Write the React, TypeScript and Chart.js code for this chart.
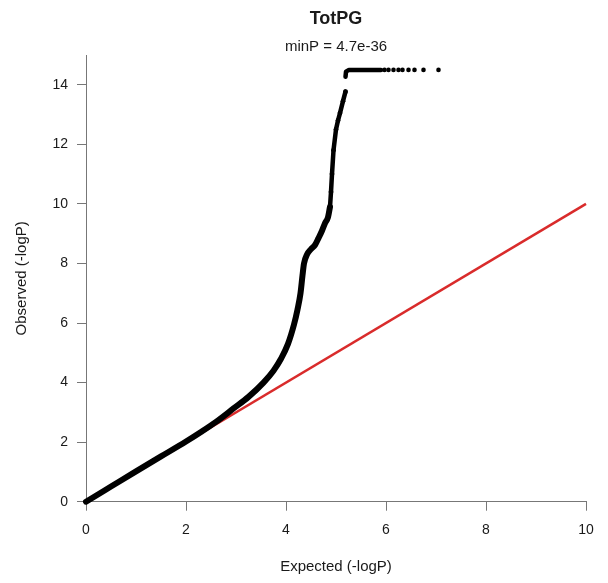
import React, { useEffect, useRef } from "react";
import { Chart, registerables } from "chart.js";

Chart.register(...registerables);

// Main (dense) part of the QQ curve: expected vs observed -log10(P)
const curveExpected = [0, 0.5, 1, 1.5, 2, 2.3, 2.6, 2.95, 3.25, 3.55, 3.75, 3.9, 4.04, 4.16, 4.23, 4.29, 4.33, 4.36, 4.42, 4.5, 4.58, 4.65, 4.72, 4.78, 4.84, 4.88];
const curveObserved = [0, 0.51, 1.02, 1.52, 2.02, 2.34, 2.68, 3.13, 3.52, 4.0, 4.4, 4.8, 5.3, 5.95, 6.45, 7.0, 7.6, 8.0, 8.3, 8.48, 8.62, 8.85, 9.1, 9.35, 9.55, 9.9];
// Sparser upper part
const upperExpected = [4.88, 4.9, 4.92, 4.95, 5.0, 5.04, 5.08, 5.14, 5.19];
const upperObserved = [9.9, 10.4, 11.0, 11.8, 12.5, 12.8, 13.05, 13.45, 13.77];
// Capped plateau
const plateauExpected = [5.19, 5.2, 5.26, 5.5, 5.7, 5.9];
const plateauObserved = [14.27, 14.44, 14.5, 14.5, 14.5, 14.5];
// Isolated tail points
const tailExpected = [5.97, 6.05, 6.15, 6.25, 6.33, 6.45, 6.57, 6.75, 7.05];
const tailObserved = [14.5, 14.5, 14.5, 14.5, 14.5, 14.5, 14.5, 14.5, 14.5];
// Reference line y = x
const refExpected = [0, 10];
const refObserved = [0, 10];

const xTicks = [0, 2, 4, 6, 8, 10];
const yTicks = [0, 2, 4, 6, 8, 10, 12, 14];

const titleText = "TotPG";
const subtitleText = "minP = 4.7e-36";
const xTitle = "Expected (-logP)";
const yTitle = "Observed (-logP)";

const FONT = "'Liberation Sans', Arial, Helvetica, sans-serif";
const AXIS_COLOR = "#777777";
const TEXT_COLOR = "#1a1a1a";

const zip = (xs: number[], ys: number[]) => xs.map((x, i) => ({ x, y: ys[i] }));

const textPlugin = {
  id: "rtext",
  afterDraw(chart: any) {
    const ctx = chart.ctx;
    const area = chart.chartArea;
    const cx = (area.left + area.right) / 2;
    const cy = (area.top + area.bottom) / 2;
    ctx.save();
    ctx.fillStyle = TEXT_COLOR;
    ctx.textAlign = "center";
    ctx.textBaseline = "middle";
    ctx.font = `bold 18px ${FONT}`;
    ctx.fillText(titleText, cx, 19);
    ctx.font = `15px ${FONT}`;
    ctx.fillText(subtitleText, cx, 47);
    ctx.fillText(xTitle, cx, 567);
    ctx.translate(22, cy);
    ctx.rotate(-Math.PI / 2);
    ctx.fillText(yTitle, 0, 0);
    ctx.restore();
  },
};

export default function App() {
  const ref = useRef<HTMLCanvasElement | null>(null);

  useEffect(() => {
    if (!ref.current) return;
    const chart = new Chart(ref.current, {
      type: "scatter",
      data: {
        datasets: [
          {
            label: "tail",
            data: zip(tailExpected, tailObserved),
            showLine: false,
            pointRadius: 2.3,
            pointBackgroundColor: "#000",
            pointBorderWidth: 0,
            clip: false,
            order: 0,
          } as any,
          {
            label: "plateau",
            data: zip(plateauExpected, plateauObserved),
            showLine: true,
            borderColor: "#000",
            borderWidth: 4.5,
            borderCapStyle: "round",
            borderJoinStyle: "round",
            pointRadius: 0,
            clip: false,
            order: 0,
          },
          {
            label: "upper",
            data: zip(upperExpected, upperObserved),
            showLine: true,
            borderColor: "#000",
            borderWidth: 4.5,
            borderCapStyle: "round",
            borderJoinStyle: "round",
            pointRadius: 2.4,
            pointBackgroundColor: "#000",
            pointBorderWidth: 0,
            clip: false,
            order: 0,
          },
          {
            label: "main",
            data: zip(curveExpected, curveObserved),
            showLine: true,
            borderColor: "#000",
            borderWidth: 6,
            borderCapStyle: "round",
            borderJoinStyle: "round",
            pointRadius: 0,
            cubicInterpolationMode: "monotone",
            clip: false,
            order: 0,
          },
          {
            label: "ref",
            data: zip(refExpected, refObserved),
            showLine: true,
            borderColor: "#d92b2b",
            borderWidth: 2.5,
            pointRadius: 0,
            clip: false,
            order: 5,
          },
        ],
      },
      options: {
        animation: false,
        responsive: false,
        devicePixelRatio: 1,
        events: [],
        layout: { padding: { top: 55, right: 22, left: 0, bottom: 0 } },
        plugins: {
          legend: { display: false },
          tooltip: { enabled: false },
          title: { display: false },
        },
        scales: {
          x: {
            type: "linear",
            min: 0,
            max: 10,
            afterFit: (s: any) => {
              s.height = 81.3;
            },
            afterBuildTicks: (axis: any) => {
              axis.ticks = xTicks.map((v) => ({ value: v }));
            },
            border: { display: true, color: AXIS_COLOR, width: 1 },
            grid: {
              drawOnChartArea: false,
              drawTicks: true,
              tickLength: 9,
              tickColor: AXIS_COLOR,
              color: AXIS_COLOR,
            },
            ticks: {
              color: TEXT_COLOR,
              font: { family: FONT, size: 14 },
              padding: 11,
              maxRotation: 0,
              autoSkip: false,
            },
          },
          y: {
            type: "linear",
            min: 0,
            max: 15,
            afterFit: (s: any) => {
              s.width = 86;
            },
            afterBuildTicks: (axis: any) => {
              axis.ticks = yTicks.map((v) => ({ value: v }));
            },
            border: { display: true, color: AXIS_COLOR, width: 1 },
            grid: {
              drawOnChartArea: false,
              drawTicks: true,
              tickLength: 9,
              tickColor: AXIS_COLOR,
              color: AXIS_COLOR,
            },
            ticks: {
              color: TEXT_COLOR,
              font: { family: FONT, size: 14 },
              padding: 9,
              autoSkip: false,
            },
          },
        },
      },
      plugins: [textPlugin],
    });
    return () => chart.destroy();
  }, []);

  return (
    <div style={{ position: "absolute", left: 0, top: 0, width: 608, height: 583, background: "#fff" }}>
      <canvas ref={ref} width={608} height={583} style={{ display: "block" }} />
    </div>
  );
}
